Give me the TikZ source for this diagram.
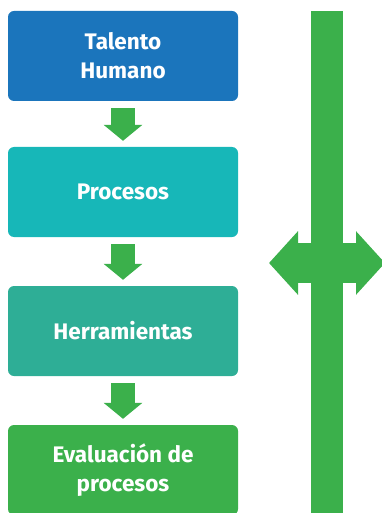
\documentclass[tikz,border=0pt]{standalone}
\usepackage{fontspec}
\setmainfont{Fira Sans}
\usetikzlibrary{arrows.meta}
\definecolor{tblue}{HTML}{1B75BC}
\definecolor{tteal}{HTML}{17B7B8}
\definecolor{tjade}{HTML}{2EAE96}
\definecolor{tgreen}{HTML}{3BB04B}
\begin{document}
\begin{tikzpicture}[x=1pt,y=-1pt]
        \tikzstyle{stage}=[rectangle,rounded corners=6pt,inner sep=0pt,minimum width=230pt,minimum height=90pt,text=white,align=center,font=\fontsize{22.5}{29}\selectfont\bfseries]
        \tikzstyle{flow}=[draw=tgreen,line width=24pt,-{Triangle[length=16pt,width=38pt]},shorten <=7pt,shorten >=6pt]
        \tikzstyle{twoway}=[draw=tgreen,line width=40pt,{Triangle[length=29pt,width=62pt]}-{Triangle[length=29pt,width=62pt]}]
        \useasboundingbox (0,0) rectangle (382,513);
       \begin{scope}
         \node [stage,fill=tblue] (talento) at (123,56) {Talento\\Humano};
         \node [stage,fill=tteal] (procesos) at (123,192) {Procesos};
         \node [stage,fill=tjade] (herramientas) at (123,331) {Herramientas};
         \node [stage,fill=tgreen] (evaluacion) at (123,470) {Evaluación de\\procesos};
         \draw[flow] (talento) -- (procesos);
         \draw[flow] (procesos) -- (herramientas);
         \draw[flow] (herramientas) -- (evaluacion);
        \end{scope}
        % eje vertical
        \node [fill=tgreen,inner sep=0pt,minimum width=32pt,minimum height=506pt] (eje) at (327,264) {};
        \coordinate (izq) at (269,263);
        \coordinate (der) at (385,263);
        \draw[twoway] (izq) -- (der);
      \end{tikzpicture}
\end{document}
